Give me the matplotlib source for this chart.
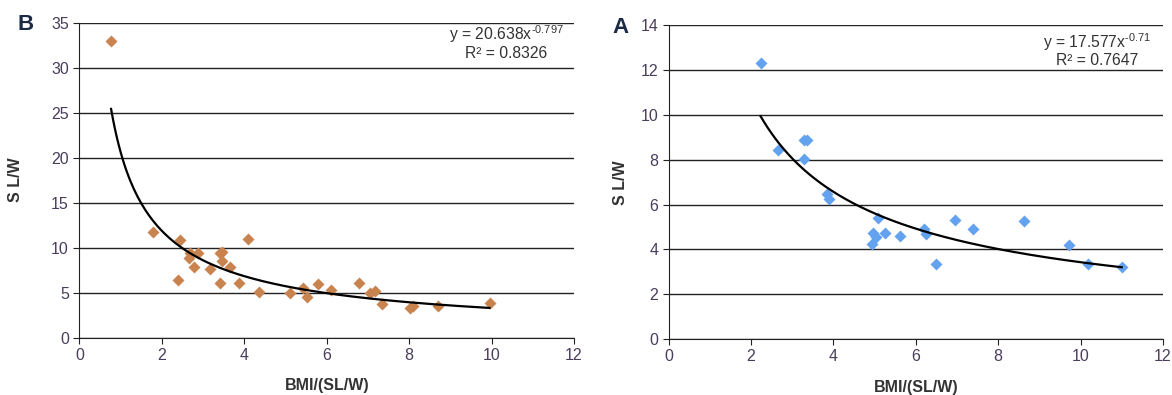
import numpy as np
import matplotlib
matplotlib.use('Agg')
import matplotlib.pyplot as plt

plt.rcParams['font.family'] = ['Liberation Sans', 'DejaVu Sans']
plt.rcParams['mathtext.fontset'] = 'custom'
plt.rcParams['mathtext.rm'] = 'Liberation Sans'
plt.rcParams['mathtext.it'] = 'Liberation Sans:italic'
plt.rcParams['mathtext.bf'] = 'Liberation Sans:bold'

# --- panel B data ---
b_x = [0.77, 1.78, 2.43, 2.40, 2.65, 2.69, 2.89, 2.78, 3.16, 3.42, 3.46, 3.46,
       3.66, 3.42, 3.88, 4.09, 4.37, 5.11, 5.42, 5.52, 5.78, 6.10, 6.79, 7.04,
       7.18, 7.34, 8.01, 8.09, 8.69, 9.95]
b_y = [33.0, 11.75, 10.9, 6.4, 8.9, 9.36, 9.36, 7.8, 7.62, 9.36, 9.54, 8.5,
       7.9, 6.03, 6.03, 10.95, 5.05, 5.0, 5.47, 4.55, 5.95, 5.29, 6.1, 5.0,
       5.2, 3.75, 3.28, 3.52, 3.52, 3.88]
b_coef, b_exp, b_r2 = 20.638, -0.797, 0.8326

# --- panel A data ---
a_x = [2.23, 2.66, 3.28, 3.36, 3.28, 3.85, 3.90, 5.07, 4.97, 5.03, 5.25, 4.94,
       5.61, 6.20, 6.25, 6.49, 6.96, 7.39, 8.62, 9.72, 10.18, 11.0]
a_y = [12.3, 8.44, 8.88, 8.88, 8.05, 6.47, 6.24, 5.39, 4.72, 4.57, 4.72, 4.22,
       4.6, 4.9, 4.67, 3.33, 5.29, 4.92, 5.27, 4.2, 3.36, 3.21]
a_coef, a_exp, a_r2 = 17.577, -0.71, 0.7647

tick_color = '#4a3d5c'
label_color = '#333333'


def draw_panel(ax, xs, ys, coef, expo, r2, color, ymax, ystep, letter, eq_xy,
               letter_xy, ypad):
    ax.plot(xs, ys, 'D', color=color, ms=6, mec='none', zorder=3)
    # power trend line over the data range
    xx = np.linspace(min(xs), max(xs), 200)
    ax.plot(xx, coef * xx ** expo, color='black', lw=1.6, zorder=4)

    ax.set_xlim(0, 12)
    ax.set_ylim(0, ymax)
    ax.set_xticks(range(0, 13, 2))
    ax.set_yticks(np.arange(0, ymax + 0.1, ystep))
    ax.yaxis.grid(True, color='#222222', lw=1.0)
    ax.set_axisbelow(True)
    for s in ['top', 'right']:
        ax.spines[s].set_visible(False)
    for s in ['left', 'bottom']:
        ax.spines[s].set_color('#222222')
    ax.tick_params(colors='#222222', labelcolor=tick_color, labelsize=11.5,
                   direction='out', length=4)
    ax.set_xlabel('BMI/(SL/W)', fontweight='bold', color=label_color,
                  fontsize=11.5, labelpad=11)
    ax.set_ylabel('S L/W', fontweight='bold', color=label_color,
                  fontsize=11.5, labelpad=ypad)

    ex, ey1, ey2 = eq_xy
    ax.text(ex, ey1, r'y = %.3fx$^{%s}$' % (coef, ('%g' % expo).replace('-', '\u2010')),
            ha='center', va='center', fontsize=11.3, color='#333333')
    ax.text(ex, ey2, 'R\u00b2 = %.4f' % r2, ha='center', va='center',
            fontsize=11.3, color='#333333')
    ax.text(letter_xy[0], letter_xy[1], letter, transform=ax.transAxes, fontsize=16,
            fontweight='bold', color='#1d2a45', ha='center', va='center')


fig = plt.figure(figsize=(11.72, 3.95), dpi=100)
ax1 = fig.add_axes([0.0677, 0.1451, 0.4221, 0.7975])
ax2 = fig.add_axes([0.5706, 0.1418, 0.4217, 0.7939])

draw_panel(ax1, b_x, b_y, b_coef, b_exp, b_r2, '#c8834f', 35, 5, 'B',
           (10.36, 33.75, 31.55), (-0.108, 0.993), 20)
draw_panel(ax2, a_x, a_y, a_coef, a_exp, a_r2, '#63a2ee', 14, 2, 'A',
           (10.41, 13.27, 12.42), (-0.098, 0.992), 9)

fig.savefig('out.png', dpi=100)
